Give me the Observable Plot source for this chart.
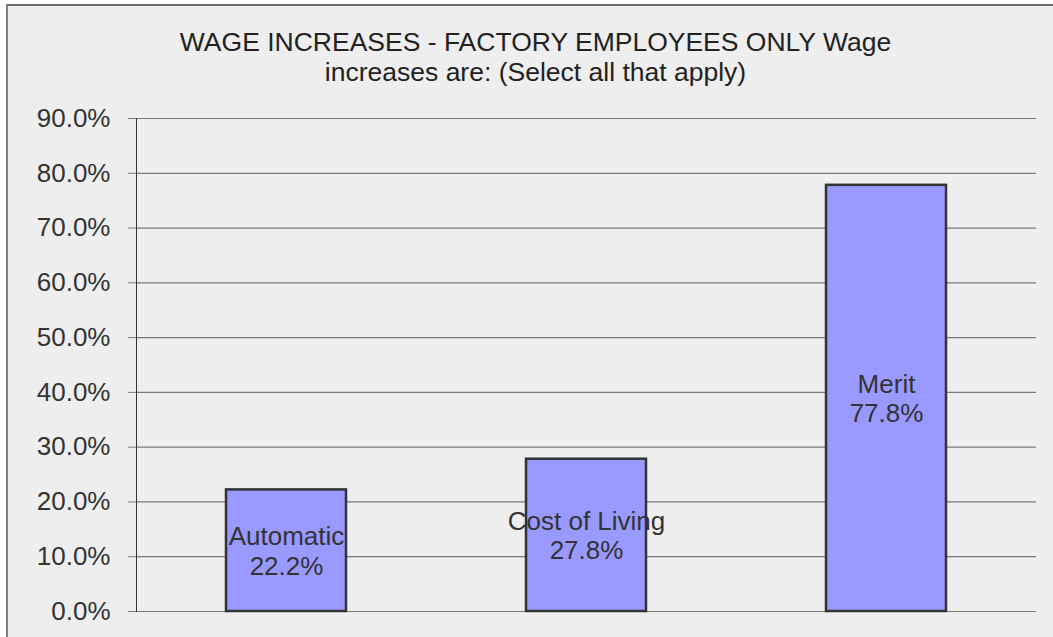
<!DOCTYPE html>
<html>
<head>
<meta charset="utf-8">
<script src="https://cdn.jsdelivr.net/npm/d3@7"></script>
<script src="https://cdn.jsdelivr.net/npm/@observablehq/plot@0.6"></script>
<style>
  html, body { margin: 0; padding: 0; background: #ffffff; }
  #wrap { position: relative; width: 1053px; height: 637px; overflow: hidden; }
  #frame { position: absolute; left: 6px; top: 4px; right: 0; bottom: 0; background: #eeeeee;
           border-left: 2px solid #808080; border-top: 2px solid #6e6e6e; }
  #title { position: absolute; left: 18px; right: 0; top: 27px; text-align: center;
           font-family: "Liberation Sans", Arial, sans-serif;
           font-size: 26.5px; line-height: 30px; color: #222222; }
  #chart { position: absolute; left: 0; top: 100px; }
</style>
</head>
<body>
<div id="wrap">
  <div id="frame"></div>
  <div id="title">WAGE INCREASES - FACTORY EMPLOYEES ONLY Wage<br>increases are: (Select all that apply)</div>
  <div id="chart"></div>
</div>
<script>
const categories = ["Automatic", "Cost of Living", "Merit"];
const values = [0.222, 0.278, 0.778];
const yTicks = [0, 0.1, 0.2, 0.3, 0.4, 0.5, 0.6, 0.7, 0.8, 0.9];

const data = categories.map((c, i) => ({category: c, value: values[i]}));
const fmt = d3.format(".1%");

const plot = Plot.plot({
  width: 1053,
  height: 537,
  marginTop: 18,
  marginBottom: 26,
  marginLeft: 136,
  marginRight: 17,
  style: {background: "transparent", fontFamily: "'Liberation Sans', Arial, sans-serif", color: "#333333"},
  x: {domain: categories, paddingInner: 0.6, paddingOuter: 0.3, axis: null},
  y: {domain: [0, 0.9], ticks: yTicks, tickFormat: fmt, label: null},
  marks: [
    Plot.gridY(yTicks, {stroke: "#7a7a7a", strokeOpacity: 1, strokeWidth: 1.2}),
    Plot.axisY(yTicks, {tickFormat: fmt, tickSize: 8, tickPadding: 18, fontSize: 26, label: null,
      stroke: "#7a7a7a", strokeOpacity: 1, fill: "#333333"}),
    Plot.frame({anchor: "left", stroke: "#333333"}),
    Plot.barY(data, {x: "category", y: "value", fill: "#9999ff", stroke: "#333333", strokeWidth: 2.5}),
    Plot.text(data, {x: "category", y: d => d.value / 2, text: d => d.category + "\n" + fmt(d.value),
      fontSize: 26, lineHeight: 1.12, fill: "#333333"})
  ]
});
document.getElementById("chart").appendChild(plot);
</script>
</body>
</html>
